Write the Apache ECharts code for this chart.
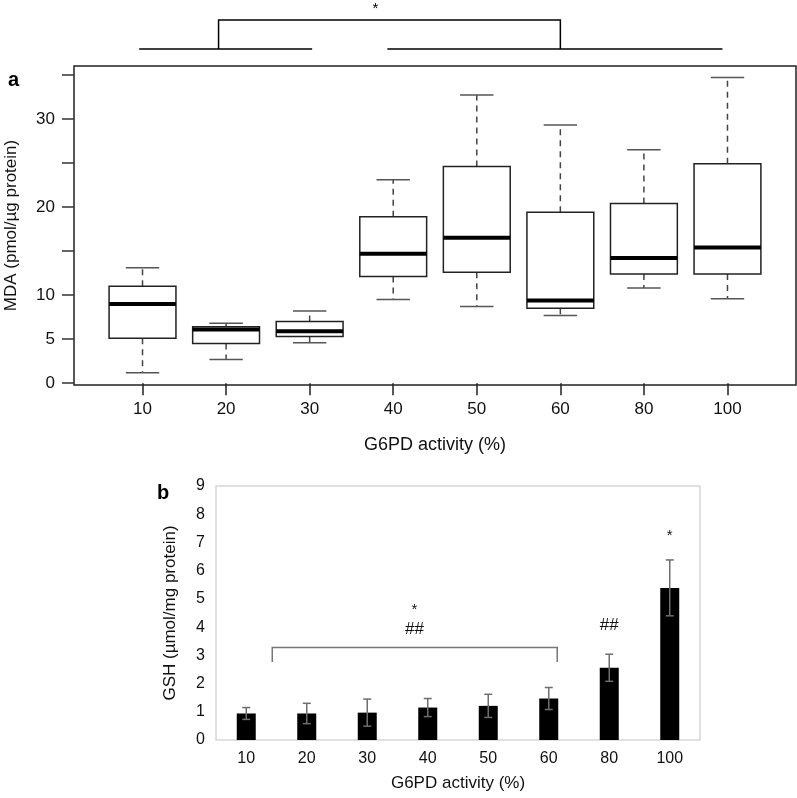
<!DOCTYPE html>
<html>
<head>
<meta charset="utf-8">
<script src="https://cdn.jsdelivr.net/npm/echarts@6/dist/echarts.min.js"></script>
<style>html,body{margin:0;padding:0;background:#fff;}#c{width:797px;height:798px;}</style>
</head>
<body>
<div id="c"></div>
<script>
// ---- Panel a: MDA boxplots ----
const categories = ['10', '20', '30', '40', '50', '60', '80', '100'];
const mdaLow  = [1.2, 2.7, 4.6, 9.5, 8.7, 7.7, 10.8, 9.6];
const mdaQ1   = [5.1, 4.5, 5.3, 12.1, 12.6, 8.5, 12.4, 12.4];
const mdaMed  = [9.0, 6.1, 5.9, 14.7, 16.5, 9.4, 14.2, 15.4];
const mdaQ3   = [11.0, 6.4, 7.0, 18.9, 24.6, 19.4, 20.4, 24.9];
const mdaHigh = [13.1, 6.8, 8.2, 23.1, 32.7, 29.3, 26.5, 34.7];
const mdaTicks = [0, 5, 10, 15, 20, 25, 30, 35];
const mdaTickLabels = [0, 5, 10, 20, 30];

// ---- Panel b: GSH bars ----
const gshMean = [0.94, 0.94, 0.97, 1.15, 1.21, 1.47, 2.56, 5.39];
const gshErr  = [0.21, 0.36, 0.48, 0.32, 0.41, 0.39, 0.48, 0.99];
const gshTicks = [0, 1, 2, 3, 4, 5, 6, 7, 8, 9];
// annotations: [category position, value, text]
const gshMarks = [[2.78, 3.92, '##'], [2.78, 4.62, '*'], [6, 4.06, '##'], [7, 7.25, '*']];
// bracket b: from category 0 (+0.43) to category 5 (+0.14), top value, end value
const gshBracket = [0.43, 5.14, 3.28, 2.76];
// top bracket for panel a (category positions)
const topBracket = {left: [0.96, 3.03], right: [3.93, 7.94], drops: [1.91, 6.0]};

const FONT = 'Liberation Sans, Arial, sans-serif';
const chart = echarts.init(document.getElementById('c'), null, {renderer: 'canvas'});

const boxData = categories.map((c, i) => [i + 1, mdaLow[i], mdaQ1[i], mdaMed[i], mdaQ3[i], mdaHigh[i]]);

const option = {
  backgroundColor: '#fff',
  animation: false,
  grid: [
    {left: 74, top: 66, right: 1, height: 319, show: true, borderColor: '#222', borderWidth: 1.5, backgroundColor: 'transparent', outerBoundsMode: 'none', containLabel: false},
    {left: 216, top: 486, right: 97, bottom: 58, show: true, borderColor: '#d6d6d6', borderWidth: 1.5, backgroundColor: 'transparent', outerBoundsMode: 'none', containLabel: false}
  ],
  xAxis: [
    {
      type: 'value', gridIndex: 0, min: 0.18, max: 8.82,
      splitLine: {show: false},
      axisLine: {show: false},
      axisTick: {show: true, length: 12, customValues: categories.map((c, i) => i + 1), lineStyle: {color: '#222', width: 1.5}},
      axisLabel: {show: true, customValues: categories.map((c, i) => i + 1), formatter: v => categories[Math.round(v) - 1], fontSize: 17, fontFamily: FONT, color: '#111', margin: 16},
      name: 'G6PD activity (%)', nameLocation: 'middle', nameGap: 51,
      nameTextStyle: {fontSize: 18, fontFamily: FONT, color: '#111'}
    },
    {
      type: 'category', gridIndex: 1, data: categories, boundaryGap: true,
      axisLine: {show: false}, axisTick: {show: false},
      axisLabel: {fontSize: 16, fontFamily: FONT, color: '#111', margin: 11},
      name: 'G6PD activity (%)', nameLocation: 'middle', nameGap: 35,
      nameTextStyle: {fontSize: 17, fontFamily: FONT, color: '#111'}
    }
  ],
  yAxis: [
    {
      type: 'value', gridIndex: 0, min: -0.2, max: 36,
      splitLine: {show: false},
      axisLine: {show: false},
      axisTick: {show: true, length: 12, customValues: mdaTicks, lineStyle: {color: '#333', width: 1.5}},
      axisLabel: {show: true, customValues: mdaTickLabels, fontSize: 17, fontFamily: FONT, color: '#111', margin: 19},
      name: 'MDA (pmol/µg protein)', nameLocation: 'middle', nameGap: 54, nameRotate: 90,
      nameTextStyle: {fontSize: 17, fontFamily: FONT, color: '#111'}
    },
    {
      type: 'value', gridIndex: 1, min: 0, max: 9, interval: 1,
      splitLine: {show: false}, axisLine: {show: false}, axisTick: {show: false},
      axisLabel: {fontSize: 16, fontFamily: FONT, color: '#111', margin: 11},
      name: 'GSH (µmol/mg protein)', nameLocation: 'middle', nameGap: 37, nameRotate: 90,
      nameTextStyle: {fontSize: 17, fontFamily: FONT, color: '#111'}
    }
  ],
  graphic: [
    {type: 'text', left: 8, top: 70, style: {text: 'a', font: 'bold 20px ' + FONT, fill: '#000'}},
    {type: 'text', left: 157, top: 483, style: {text: 'b', font: 'bold 20px ' + FONT, fill: '#000'}}
  ],
  series: [
    {
      type: 'custom', xAxisIndex: 0, yAxisIndex: 0, data: boxData, z: 3,
      renderItem: function (params, api) {
        const x = api.value(0);
        const w = api.size([0.8, 0])[0];
        const cw = api.size([0.4, 0])[0];
        const pLow = api.coord([x, api.value(1)]);
        const pQ1 = api.coord([x, api.value(2)]);
        const pMed = api.coord([x, api.value(3)]);
        const pQ3 = api.coord([x, api.value(4)]);
        const pHigh = api.coord([x, api.value(5)]);
        const cx = pMed[0];
        const dash = {stroke: '#444', lineWidth: 1.5, lineDash: [6, 5]};
        const cap = {stroke: '#555', lineWidth: 1.5};
        return {
          type: 'group',
          children: [
            {type: 'line', shape: {x1: cx, y1: pQ3[1], x2: cx, y2: pHigh[1]}, style: dash},
            {type: 'line', shape: {x1: cx, y1: pQ1[1], x2: cx, y2: pLow[1]}, style: dash},
            {type: 'line', shape: {x1: cx - cw / 2, y1: pHigh[1], x2: cx + cw / 2, y2: pHigh[1]}, style: cap},
            {type: 'line', shape: {x1: cx - cw / 2, y1: pLow[1], x2: cx + cw / 2, y2: pLow[1]}, style: cap},
            {type: 'rect', shape: {x: cx - w / 2, y: pQ3[1], width: w, height: pQ1[1] - pQ3[1]}, style: {fill: '#fff', stroke: '#222', lineWidth: 1.5}},
            {type: 'line', shape: {x1: cx - w / 2, y1: pMed[1], x2: cx + w / 2, y2: pMed[1]}, style: {stroke: '#000', lineWidth: 4}}
          ]
        };
      }
    },
    {
      type: 'custom', xAxisIndex: 0, yAxisIndex: 0, data: [[0]], clip: false, silent: true,
      renderItem: function (params, api) {
        const top = api.coord([1, 36])[1];
        const X = v => api.coord([v, 0])[0];
        const yTop = top - 46, yBar = top - 17;
        const st = {stroke: '#000', lineWidth: 1.5};
        return {
          type: 'group',
          children: [
            {type: 'line', shape: {x1: X(topBracket.left[0]), y1: yBar, x2: X(topBracket.left[1]), y2: yBar}, style: st},
            {type: 'line', shape: {x1: X(topBracket.right[0]), y1: yBar, x2: X(topBracket.right[1]), y2: yBar}, style: st},
            {type: 'polyline', shape: {points: [[X(topBracket.drops[0]), yBar], [X(topBracket.drops[0]), yTop], [X(topBracket.drops[1]), yTop], [X(topBracket.drops[1]), yBar]]}, style: {stroke: '#000', lineWidth: 1.5, fill: null}},
            {type: 'text', style: {text: '*', x: (X(topBracket.drops[0]) + X(topBracket.drops[1])) / 2 - 14, y: top - 65, font: '15px ' + FONT, fill: '#000', align: 'center', verticalAlign: 'top'}}
          ]
        };
      }
    },
    {
      type: 'bar', xAxisIndex: 1, yAxisIndex: 1, data: gshMean, barWidth: 19,
      itemStyle: {color: '#000'}, z: 2
    },
    {
      type: 'custom', xAxisIndex: 1, yAxisIndex: 1, z: 4,
      data: gshMean.map((m, i) => [i, m - gshErr[i], m + gshErr[i]]),
      renderItem: function (params, api) {
        const lo = api.coord([api.value(0), api.value(1)]);
        const hi = api.coord([api.value(0), api.value(2)]);
        const st = {stroke: '#6e6e6e', lineWidth: 1.5};
        return {
          type: 'group',
          children: [
            {type: 'line', shape: {x1: lo[0], y1: lo[1], x2: hi[0], y2: hi[1]}, style: st},
            {type: 'line', shape: {x1: hi[0] - 4, y1: hi[1], x2: hi[0] + 4, y2: hi[1]}, style: st},
            {type: 'line', shape: {x1: lo[0] - 4, y1: lo[1], x2: lo[0] + 4, y2: lo[1]}, style: st}
          ]
        };
      }
    },
    {
      type: 'custom', xAxisIndex: 1, yAxisIndex: 1, z: 4, data: [[0]], clip: false, silent: true,
      renderItem: function (params, api) {
        const band = api.size([1, 0])[0];
        const x0 = api.coord([0, 0])[0] + gshBracket[0] * band;
        const x1 = api.coord([0, 0])[0] + gshBracket[1] * band;
        const yT = api.coord([0, gshBracket[2]])[1];
        const yE = api.coord([0, gshBracket[3]])[1];
        return {type: 'polyline', shape: {points: [[x0, yE], [x0, yT], [x1, yT], [x1, yE]]}, style: {stroke: '#777', lineWidth: 1.5, fill: null}};
      }
    },
    {
      type: 'custom', xAxisIndex: 1, yAxisIndex: 1, z: 5, data: gshMarks, clip: false, silent: true,
      renderItem: function (params, api) {
        const band = api.size([1, 0])[0];
        const base = api.coord([0, 0])[0];
        const x = base + api.value(0) * band;
        const y = api.coord([0, api.value(1)])[1];
        const t = gshMarks[params.dataIndex][2];
        return {type: 'text', style: {text: t, x: x, y: y, font: (t === '*' ? '15px ' : '17px ') + FONT, fill: '#111', align: 'center', verticalAlign: 'middle'}};
      }
    }
  ]
};
chart.setOption(option);
</script>
</body>
</html>
